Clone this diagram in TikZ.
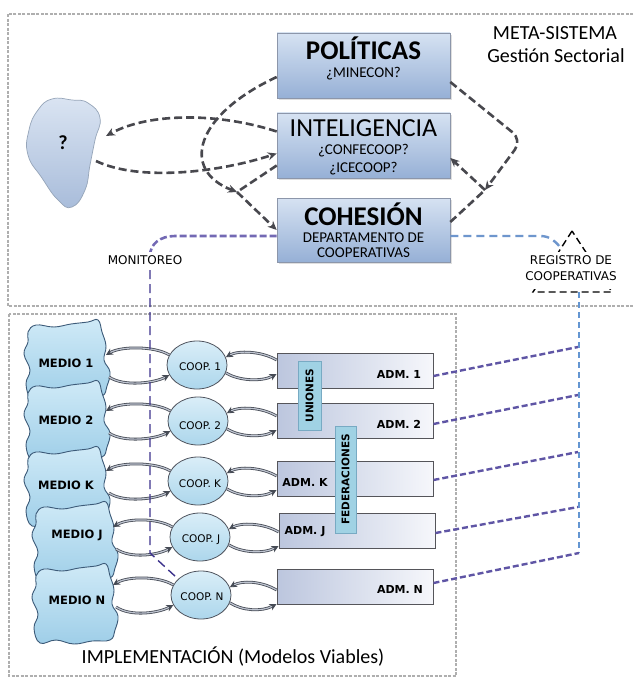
\documentclass[tikz,border=0pt]{standalone}
\usepackage{fontspec}
\setmainfont{Carlito}
\newfontfamily\dvs{DejaVu Sans}
\usetikzlibrary{arrows.meta,shapes.geometric,calc,shadows}
\definecolor{metalight}{RGB}{214,226,242}
\definecolor{metadark}{RGB}{150,176,214}
\definecolor{metaborder}{RGB}{140,150,170}
\definecolor{mlinecol}{RGB}{72,72,78}
\definecolor{qtop}{RGB}{218,228,242}
\definecolor{qbot}{RGB}{168,188,218}
\definecolor{qborder}{RGB}{150,165,185}
\definecolor{medtop}{RGB}{208,234,247}
\definecolor{medbot}{RGB}{158,206,232}
\definecolor{medborder}{RGB}{60,90,120}
\definecolor{cooptop}{RGB}{218,238,248}
\definecolor{coopbot}{RGB}{172,214,236}
\definecolor{coopborder}{RGB}{80,85,95}
\definecolor{admleft}{RGB}{188,198,222}
\definecolor{admright}{RGB}{246,247,251}
\definecolor{admborder}{RGB}{85,85,90}
\definecolor{unfill}{RGB}{160,210,228}
\definecolor{unborder}{RGB}{120,170,195}
\definecolor{dblcol}{RGB}{70,75,85}
\definecolor{dblin}{RGB}{190,196,208}
\definecolor{admlinecol}{RGB}{95,85,165}
\definecolor{monhcol}{RGB}{115,105,180}
\definecolor{monvcol}{RGB}{60,50,140}
\definecolor{bluehcol}{RGB}{110,150,205}
\definecolor{bluevcol}{RGB}{100,150,210}
\definecolor{framecol}{RGB}{175,175,175}
\tikzset{
  frame/.style={draw=framecol, line width=1.4pt, dash pattern=on 3pt off 1.5pt},
  metabox/.style={draw=metaborder, line width=0.6pt, top color=metalight, bottom color=metadark,
    minimum width=173pt, inner sep=0pt, drop shadow={shadow xshift=2pt, shadow yshift=-2pt, opacity=0.25}},
  bigtxt/.style={anchor=base, inner sep=0pt, font=\fontsize{26}{26}\selectfont},
  smalltxt/.style={anchor=base, inner sep=0pt, font=\fontsize{15}{15}\selectfont},
  mline/.style={draw=mlinecol, line width=2.6pt, dash pattern=on 8pt off 4pt},
  mtip/.style={-{Stealth[length=9pt,width=8pt]}},
  medioshape/.style={draw=medborder, line width=0.9pt, top color=medtop, bottom color=medbot},
  mediotxt/.style={font=\dvs\bfseries\fontsize{11.5}{12}\selectfont, inner sep=0pt},
  coop/.style={ellipse, draw=coopborder, line width=0.8pt, top color=cooptop, bottom color=coopbot,
    minimum width=60pt, minimum height=48pt, inner sep=0pt},
  cooptxt/.style={font=\dvs\fontsize{10.5}{11}\selectfont, inner sep=0pt},
  admbox/.style={draw=admborder, line width=0.9pt, left color=admleft, right color=admright,
    minimum width=156pt, minimum height=35pt, inner sep=0pt},
  admtxt/.style={font=\dvs\bfseries\fontsize{11}{11}\selectfont, inner sep=0pt},
  unbox/.style={draw=unborder, line width=0.7pt, fill=unfill, inner sep=0pt, rotate=90,
    font=\dvs\bfseries\fontsize{10.5}{10}\selectfont},
  dbl/.style={draw=dblcol, line width=0.8pt, double=dblin, double distance=1.2pt,
    -{Stealth[length=7pt,width=7pt]}},
  admline/.style={draw=admlinecol, line width=2.4pt, dash pattern=on 6pt off 3pt},
  monh/.style={draw=monhcol, line width=2.6pt, dash pattern=on 7pt off 3pt},
  monv/.style={draw=monvcol, line width=1.4pt, dash pattern=on 9pt off 5pt},
  blueh/.style={draw=bluehcol, line width=2.4pt, dash pattern=on 8pt off 5pt},
  bluev/.style={draw=bluevcol, line width=1.5pt, dash pattern=on 6pt off 4pt},
  regtri/.style={draw=black, line width=1.4pt, dash pattern=on 7pt off 4pt},
  lbl/.style={font=\dvs\fontsize{12}{16}\selectfont, fill=white, inner xsep=2pt, inner ysep=3pt, align=center}
}
\begin{document}
\begin{tikzpicture}[x=1pt,y=-1pt]
\useasboundingbox (0,0) rectangle (633,679);
\fill[white] (0,0) rectangle (633,679);

% frames
\draw[frame] (660,14) -- (8,14) -- (8,306) -- (660,306);
\draw[frame] (9,314) rectangle (456,676);

% meta texts
\node[anchor=base, inner sep=0pt, font=\fontsize{20}{20}\selectfont] (meta) at (555,40) {META-SISTEMA};
\node[anchor=base, inner sep=0pt, font=\fontsize{20}{20}\selectfont] (gest) at (556,63) {Gestión Sectorial};

% question blob
\draw[draw=qborder, line width=0.7pt, top color=qtop, bottom color=qbot]
  plot[smooth cycle, tension=0.8] coordinates {(52,99) (72,100) (88,103) (100,118) (95,140) (90,165) (85,190) (72,207) (58,200) (42,178) (28,155) (29,130) (38,110)};
\node[font=\bfseries\fontsize{20}{20}\selectfont] (q) at (63,143) {?};
\coordinate (qa) at (106,136);
\coordinate (qb) at (96,161);

% meta boxes
\node[metabox, minimum height=65pt] (pol) at (363.5,65.5) {};
\node[metabox, minimum height=65pt] (int) at (363.5,145.5) {};
\node[metabox, minimum height=64pt] (coh) at (363.5,230) {};
\node[bigtxt, font=\bfseries\fontsize{27}{27}\selectfont] (polt) at (363.5,60) {POLÍTICAS};
\node[smalltxt] (pols) at (363.5,78) {¿MINECON?};
\node[bigtxt] (intt) at (363.5,137) {INTELIGENCIA};
\node[smalltxt] (ints1) at (363.5,155) {¿CONFECOOP?};
\node[smalltxt] (ints2) at (363.5,172) {¿ICECOOP?};
\node[bigtxt, font=\bfseries\fontsize{27}{27}\selectfont] (coht) at (363.5,225) {COHESIÓN};
\node[smalltxt] (cohs1) at (363.5,242) {DEPARTAMENTO DE};
\node[smalltxt] (cohs2) at (363.5,257) {COOPERATIVAS};

% meta connectors
\coordinate (j1) at (237,192);
\coordinate (j2) at (485,190);
\draw[mline, mtip] ($(int.west)+(0,-14)$) .. controls (220,113) and (150,112) .. (qa);
\draw[mline, mtip] (qb) .. controls (140,182) and (220,172) .. ($(int.west)+(0,8)$);
\draw[mline, mtip] ($(pol.west)+(0,11.5)$) .. controls (195,115) and (180,170) .. (j1);
\draw[mline] ($(int.west)+(0,20)$) -- (j1);
\draw[mline, mtip] (j1) -- (coh.west);
\draw[mline, mtip, rounded corners=12pt] ($(pol.east)+(0,16.5)$) -- (522,140) -- (j2);
\draw[mline] ($(coh.east)+(0,-8)$) -- (j2);
\draw[mline, mtip] (j2) -- ($(int.east)+(0,12.5)$);

% registro
\coordinate (ta) at (572,231);
\coordinate (tl) at (533,292);
\coordinate (tr) at (612,292);
\coordinate (tleg) at (560,247);
\draw[regtri] (ta) -- (tl) -- (tr) -- cycle;
\draw[blueh] ($(coh.east)+(0,6)$) -- (540,236) .. controls (550,236) and (555,241) .. (tleg);
\fill[white] (530,282) rectangle (616,289);
\node[lbl] (reg) at (571,268) {REGISTRO DE\\COOPERATIVAS};

% implementation: medio blobs
\foreach \cx/\cy in {66/360, 66/421, 66/487, 74/542, 74/604}{
  \begin{scope}[shift={(\cx,\cy)}]
  \draw[medioshape] plot[smooth cycle, tension=0.7] coordinates {(-38,-28) (-30,-35) (-12,-33) (5,-36) (22,-38) (32,-40) (36,-28) (40,-14) (38,0) (44,12) (41,26) (36,36) (18,37) (0,40) (-18,36) (-34,39) (-40,24) (-36,10) (-42,-6) (-38,-18)};
  \end{scope}
}
\node[mediotxt] (m1) at (66,363) {MEDIO 1};
\node[mediotxt] (m2) at (66,420) {MEDIO 2};
\node[mediotxt] (m3) at (66,485) {MEDIO K};
\node[mediotxt] (m4) at (77,535) {MEDIO J};
\node[mediotxt] (m5) at (77,600) {MEDIO N};

% coops
\node[coop] (c1) at (197,365) {};
\node[coop] (c2) at (198,421) {};
\node[coop] (c3) at (198,481) {};
\node[coop] (c4) at (200,537) {};
\node[coop] (c5) at (201,595) {};
\node[cooptxt] (c1t) at (200,367) {COOP. 1};
\node[cooptxt] (c2t) at (200,426) {COOP. 2};
\node[cooptxt] (c3t) at (200,484) {COOP. K};
\node[cooptxt] (c4t) at (201,540) {COOP. J};
\node[cooptxt] (c5t) at (202,597) {COOP. N};

% adm boxes
\node[admbox] (a1) at (355,370.5) {};
\node[admbox] (a2) at (355,421) {};
\node[admbox] (a3) at (355,479) {};
\node[admbox] (a4) at (357,530.5) {};
\node[admbox] (a5) at (355,586.5) {};
\node[admtxt] (a1t) at (399,374) {ADM. 1};
\node[admtxt] (a2t) at (399,424) {ADM. 2};
\node[admtxt] (a3t) at (305,482) {ADM. K};
\node[admtxt] (a4t) at (305,532) {ADM. J};
\node[admtxt] (a5t) at (400,589) {ADM. N};

\node[unbox, minimum width=69pt, minimum height=23pt] (un) at (309.5,395.5) {UNIONES};
\node[unbox, minimum width=107pt, minimum height=21pt] (fed) at (345.5,479.5) {FEDERACIONES};

% medio coordinates
\coordinate (mt1) at (106,355); \coordinate (mb1) at (109,377);
\coordinate (mt2) at (106,411); \coordinate (mb2) at (109,433);
\coordinate (mt3) at (106,471); \coordinate (mb3) at (109,493);
\coordinate (mt4) at (113,527); \coordinate (mb4) at (116,549);
\coordinate (mt5) at (113,585); \coordinate (mb5) at (116,607);

\foreach \c/\a/\r in {c1/a1/1, c2/a2/2, c3/a3/3, c4/a4/4, c5/a5/5}{
  \draw[dbl] (\c.160) .. controls +(-15,-9) and +(15,-9) .. (mt\r);
  \draw[dbl] (mb\r) .. controls +(15,10) and +(-15,8) .. (\c.200);
  \draw[dbl] ($(\a.west |- \c.center)+(0,-5)$) .. controls +(-15,-9) and +(12,-7) .. (\c.15);
  \draw[dbl] (\c.-15) .. controls +(12,8) and +(-15,8) .. ($(\a.west |- \c.center)+(0,9)$);
}

% registry links
\coordinate (rb) at (579,292);
\coordinate (r1) at (578,347);
\coordinate (r2) at (578,395);
\coordinate (r3) at (578,452);
\coordinate (r4) at (578,507);
\coordinate (r5) at (579,553);
\draw[bluev] (rb) -- (r5);
\draw[admline] ($(a1.east)+(0,5.5)$) -- (r1);
\draw[admline] ($(a2.east)+(0,3)$) -- (r2);
\draw[admline] ($(a3.east)+(0,1)$) -- (r3);
\draw[admline] ($(a4.east)+(0,2.5)$) -- (r4);
\draw[admline] ($(a5.east)+(0,-3.5)$) -- (r5);

% monitoreo
\coordinate (mk) at (150,256);
\draw[monh] ($(coh.west)+(0,6)$) -- (175,236) .. controls (160,236) and (150,244) .. (mk);
\draw[monv] (mk) -- (150,553) -- (c5.145);
\node[lbl] (mon) at (145,260) {MONITOREO};

% implementation title
\node[anchor=base, inner sep=0pt, font=\fontsize{20}{20}\selectfont] (impl) at (233,663) {IMPLEMENTACIÓN (Modelos Viables)};
\end{tikzpicture}
\end{document}
